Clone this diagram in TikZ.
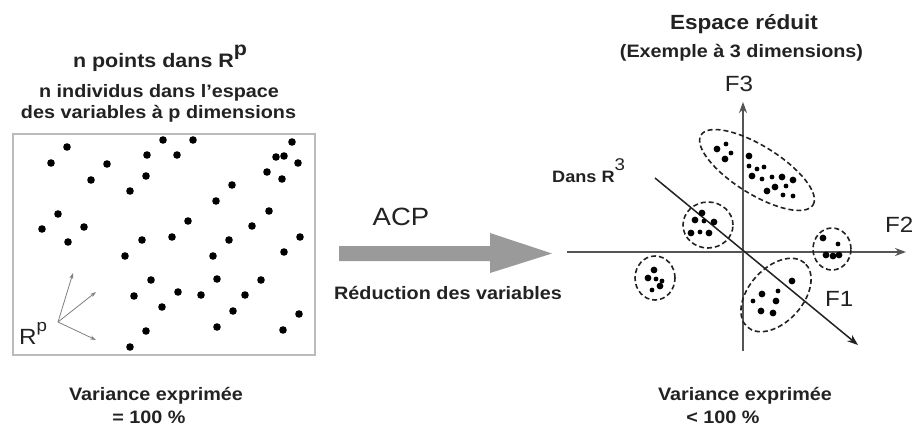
\documentclass[tikz,border=0pt]{standalone}
\usepackage{fontspec}
\setmainfont{Liberation Sans}[FakeStretch=1.1]
\usetikzlibrary{arrows.meta}
\definecolor{txt}{HTML}{222222}
\definecolor{boxgray}{HTML}{BBBBBB}
\definecolor{arrgray}{HTML}{9A9A9A}
\definecolor{axgray}{HTML}{555555}
\begin{document}
\begin{tikzpicture}[x=1pt,y=-1pt,
  lbl/.style={inner sep=0pt, anchor=base, text=txt, font=\bfseries\fontsize{18}{20}\selectfont},
  axlbl/.style={inner sep=0pt, anchor=base west, text=txt, font=\fontsize{22}{24}\selectfont},
  axisline/.style={draw=axgray, line width=2.4pt, -{Stealth[length=11pt,width=8pt]}},
  diagline/.style={draw=txt, line width=1.5pt, -{Stealth[length=11pt,width=8pt]}},
  clus/.style={draw=txt, line width=1.6pt, dash pattern=on 5pt off 3pt},
  rparrow/.style={draw=gray, line width=0.8pt, -{Stealth[length=6pt,width=4pt]}}
]
\useasboundingbox (0,0) rectangle (915,428);
\fill[white] (0,0) rectangle (915,428);

% ---------- left part ----------
\node[lbl, font=\bfseries\fontsize{19.5}{22}\selectfont] (t1) at (160,67) {n points dans R\raisebox{11.5pt}{p}};
\node[lbl] (t2) at (159,97) {n individus dans l'espace};
\node[lbl] (t3) at (158.5,118) {des variables à p dimensions};

\draw[boxgray, line width=1.5pt] (13,134) rectangle (315,355);

\foreach \p in {(67,147),(51,163),(107,164),(91,180),(163,140),(193,140),(147,155),(177,155),(146,176),(130,191),
  (292,142),(276,157),(284,156),(298,163),(267,172),(282,179),(232,185),(216,201),(269,211),(58,214),
  (42,229),(84,227),(68,242),(188,221),(252,226),(172,237),(142,240),(229,240),(300,237),(125,256),
  (213,256),(284,252),(151,280),(217,279),(261,280),(134,296),(178,292),(201,295),(245,295),(162,307),
  (233,311),(299,314),(146,331),(217,327),(283,330),(130,347)}
  \fill[black] \p circle (3.8pt);

\coordinate (o) at (58,322);
\coordinate (a1) at (73,273);
\coordinate (a2) at (96,292);
\coordinate (a3) at (96,340);
\draw[rparrow] (o) -- (a1);
\draw[rparrow] (o) -- (a2);
\draw[rparrow] (o) -- (a3);
\node[inner sep=0pt, anchor=base west, text=txt, font=\fontsize{22}{24}\selectfont] (rp) at (19,344) {R\raisebox{13pt}{\fontsize{17}{18}\selectfont p}};

\node[lbl] (v1) at (156,400) {Variance exprimée};
\node[lbl] (v2) at (149,423) {= 100 \%};

% ---------- middle arrow ----------
\fill[arrgray] (339,246) -- (490,246) -- (490,233) -- (552,253.5) -- (490,273) -- (490,261) -- (339,261) -- cycle;
\node[inner sep=0pt, anchor=base, text=txt, font=\fontsize{25}{27}\selectfont] (acp) at (401,225) {ACP};
\node[lbl] (red) at (448,299) {Réduction des variables};

% ---------- right part ----------
\node[lbl, font=\bfseries\fontsize{20.5}{22}\selectfont] (e1) at (744,30) {Espace réduit};
\node[lbl] (e2) at (741.5,58) {(Exemple à 3 dimensions)};

\coordinate (vb) at (743,351);
\coordinate (vt) at (743,102);
\coordinate (hl) at (567,252);
\coordinate (hr) at (906,252);
\coordinate (db) at (655,178);
\coordinate (de) at (858,345);
\draw[axisline] (vb) -- (vt);
\draw[axisline] (hl) -- (hr);
\draw[diagline] (db) -- (de);

\node[axlbl, anchor=base] (f3) at (739,91) {F3};
\node[axlbl] (f2) at (885,232) {F2};
\node[axlbl] (f1) at (825,306) {F1};
\node[lbl, anchor=base west, font=\bfseries\fontsize{16.5}{18}\selectfont] (dr) at (552,182) {Dans R\raisebox{12pt}{\mdseries\fontsize{17}{18}\selectfont 3}};

% clusters
\draw[clus, rotate around={-32:(757,170)}] (757,170) ellipse [x radius=66pt, y radius=24pt];
\draw[clus] (708,225) ellipse [x radius=25pt, y radius=23pt];
\draw[clus] (655,278) ellipse [x radius=20pt, y radius=22pt];
\draw[clus] (832,249) ellipse [x radius=19pt, y radius=21pt];
\draw[clus, rotate around={48:(776,295)}] (776,295) ellipse [x radius=43pt, y radius=27pt];

\foreach \p in {(717,149),(725,159),(749,156),(752,176),(782,177),(775,187),(767,191),(793,180),
  (702,213),(714,222),(691,233),(709,233),(695,220),
  (654,270),(648,278),(660,286),
  (823,238),(826,255),(833,256),(839,255),
  (792,281),(762,294),(776,301),(761,311),(773,313)}
  \fill[black] \p circle (3.4pt);
\foreach \p in {(726,144),(731,153),(749,166),(757,169),(764,167),(762,179),(772,177),(786,186),(783,195),(793,196),
  (704,221),(700,232),
  (656,279),(662,281),(652,290),
  (838,244),
  (778,291),(753,301)}
  \fill[black] \p circle (2.4pt);

\node[lbl] (v3) at (745,400) {Variance exprimée};
\node[lbl] (v4) at (723,423) {< 100 \%};
\end{tikzpicture}
\end{document}
